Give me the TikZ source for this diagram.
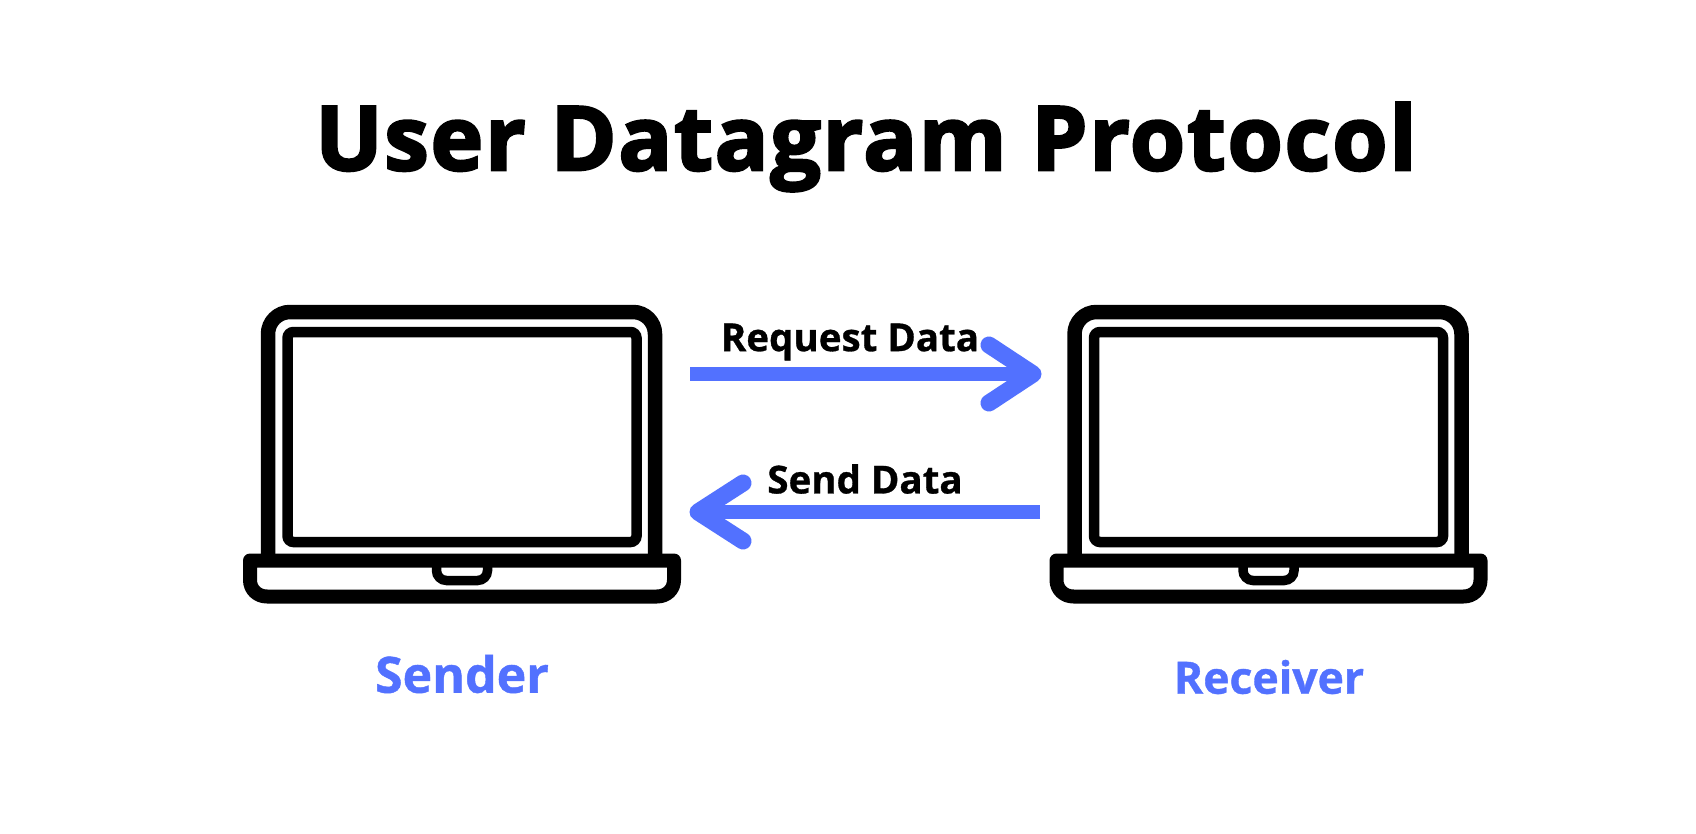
\documentclass[tikz,border=0pt]{standalone}
\usepackage{fontspec}
\setmainfont[BoldFeatures={FakeBold=0.8}]{Open Sans}
\newfontfamily\heavyfont[BoldFeatures={FakeBold=3,LetterSpace=2.2}]{Open Sans}
\definecolor{ablue}{HTML}{5271FF}
\tikzset{x=1pt,y=-1pt,
 lid/.style={draw=black,line width=14.5pt,rounded corners=22pt},
 scr/.style={draw=black,line width=10.5pt,rounded corners=6pt},
 basepart/.style={draw=black,line width=14pt,line join=round},
 notch/.style={draw=black,line width=9.5pt,rounded corners=10pt},
 flow/.style={draw=ablue,line width=14pt},
 tip/.style={draw=ablue,line width=17pt,line cap=round,line join=round},
 lbl/.style={font=\bfseries\fontsize{38.5}{38.5}\selectfont,text=black,inner sep=0pt},
 role/.style={font=\bfseries\fontsize{50}{50}\selectfont,text=ablue,inner sep=0pt},
 ttl/.style={font=\heavyfont\bfseries\fontsize{89}{89}\selectfont,text=black,inner sep=0pt}}
\begin{document}
\begin{tikzpicture}
\useasboundingbox (0,0) rectangle (1696,834);
\fill[white] (0,0) rectangle (1696,834);
\node[ttl] (title) at (866,147) {User Datagram Protocol};
\foreach \nm/\dx in {s/0,r/806.5}{
 \begin{scope}[xshift=\dx pt]
 \draw[lid] (268,561) -- (268,312) -- (655,312) -- (655,561);
 \draw[scr] (287.5,332) rectangle (636.5,542);
 \draw[basepart] (250,560.5) -- (674,560.5) -- (674,580) .. controls (674,589.6) and (666.6,596.5) .. (657,596.5) -- (267,596.5) .. controls (257.4,596.5) and (250,589.6) .. (250,580) -- cycle;
 \draw[notch] (436.5,562) -- (436.5,580.5) -- (487.5,580.5) -- (487.5,562);
 \end{scope}
}
\coordinate (a1) at (690,374);
\coordinate (b1) at (1033,374);
\coordinate (a2) at (1040,512);
\coordinate (b2) at (698,512);
\draw[flow] (a1) -- (b1);
\draw[tip] (989,345) -- (b1) -- (989,403);
\draw[flow] (a2) -- (b2);
\draw[tip] (743,483) -- (b2) -- (743,541);
\node[lbl] (req) at (850,342) {Request Data};
\node[lbl] (snd) at (865,479) {Send Data};
\node[role] (sender) at (462,674) {Sender};
\node[role,font=\bfseries\fontsize{44.5}{44.5}\selectfont] (recv) at (1269,677) {Receiver};
\end{tikzpicture}
\end{document}
